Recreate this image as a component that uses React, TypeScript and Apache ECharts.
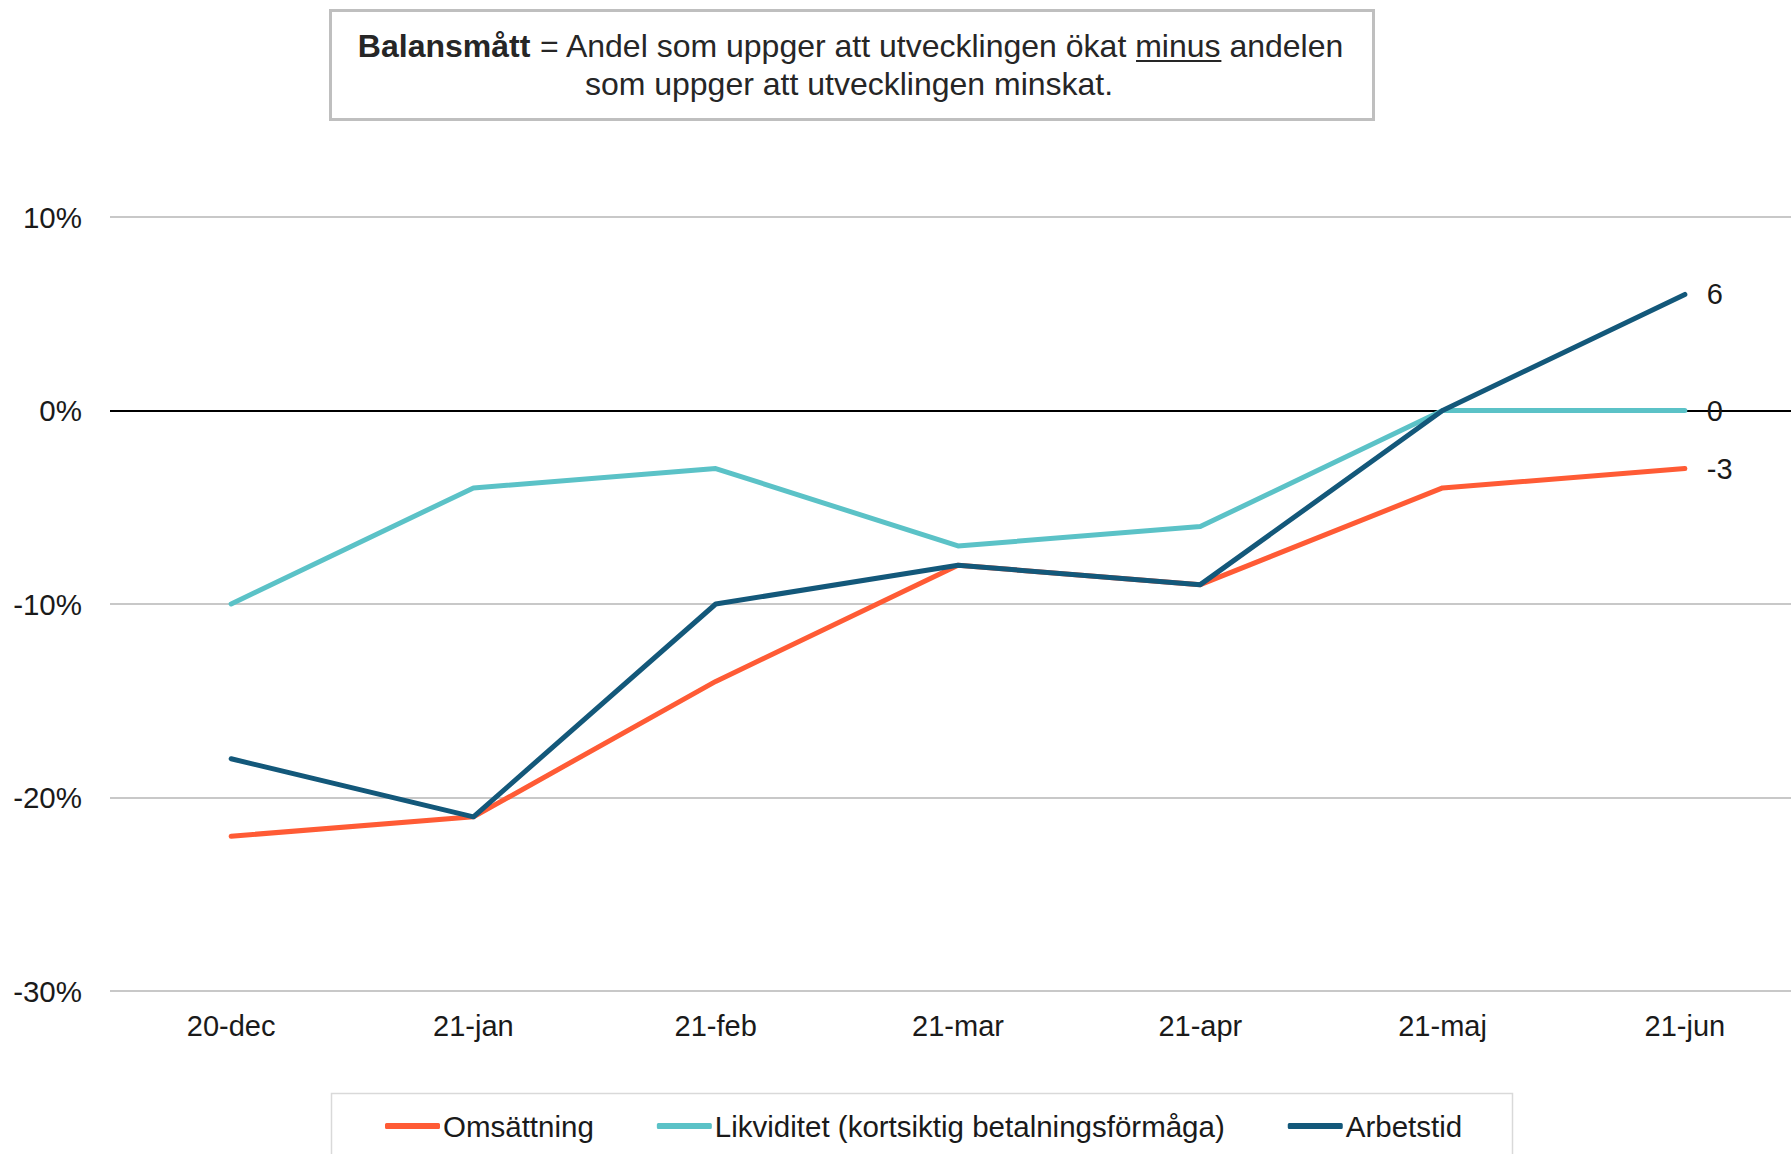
import React, { useEffect, useRef } from "react";
import * as echarts from "echarts";

const categories = ["20-dec", "21-jan", "21-feb", "21-mar", "21-apr", "21-maj", "21-jun"];
const omsattning = [-22, -21, -14, -8, -9, -4, -3];
const likviditet = [-10, -4, -3, -7, -6, 0, 0];
const arbetstid = [-18, -21, -10, -8, -9, 0, 6];
const seriesNames = ["Omsättning", "Likviditet (kortsiktig betalningsförmåga)", "Arbetstid"];
const seriesColors = ["#FF5B35", "#5BC2C7", "#13587A"];
const yTicks = [-30, -20, -10, 0, 10];

const FONT = "'Liberation Sans', Arial, sans-serif";
const NOTE_BOLD = "Balansmått";
const NOTE_PRE = " = Andel som uppger att utvecklingen ökat ";
const NOTE_UNDER = "minus";
const NOTE_POST = " andelen";
const NOTE_LINE2 = "som uppger att utvecklingen minskat.";
const NOTE_SIZE = 32;

function measure(text: string, bold: boolean): number {
  const c = document.createElement("canvas").getContext("2d");
  if (!c) return text.length * NOTE_SIZE * 0.5;
  c.font = `${bold ? "bold " : ""}${NOTE_SIZE}px 'Liberation Sans', Arial, sans-serif`;
  return c.measureText(text).width;
}

export default function App() {
  const ref = useRef<HTMLDivElement>(null);
  useEffect(() => {
    if (!ref.current) return;
    const chart = echarts.init(ref.current, null, { renderer: "svg" });
    const datasets = [omsattning, likviditet, arbetstid];
    const cx = 851;
    const wB = measure(NOTE_BOLD, true);
    const wPre = measure(NOTE_PRE, false);
    const wU = measure(NOTE_UNDER, false);
    const wPost = measure(NOTE_POST, false);
    const total = wB + wPre + wU + wPost;
    const ux1 = cx - total / 2 + wB + wPre;
    const ux2 = ux1 + wU;
    chart.setOption({
      animation: false,
      backgroundColor: "#ffffff",
      textStyle: { fontFamily: FONT },
      grid: { left: 110, right: 0, top: 217, bottom: 163, containLabel: false },
      xAxis: {
        type: "category",
        data: categories,
        boundaryGap: true,
        axisLine: { show: false },
        axisTick: { show: false },
        axisLabel: { color: "#1a1a1a", fontSize: 29, fontFamily: FONT, margin: 20 },
      },
      yAxis: {
        type: "value",
        min: yTicks[0],
        max: yTicks[yTicks.length - 1],
        interval: 10,
        axisLine: { show: false },
        axisTick: { show: false },
        axisLabel: { color: "#1a1a1a", fontSize: 29.5, fontFamily: FONT, margin: 28, formatter: "{value}%" },
        splitLine: {
          lineStyle: {
            color: yTicks.map((t) => (t === 0 ? "#000000" : "#C8C8C8")),
            width: 2,
          },
        },
      },
      legend: {
        left: 380,
        top: 1106,
        itemGap: 63,
        itemWidth: 55,
        itemHeight: 6,
        icon: "roundRect",
        textStyle: { color: "#1a1a1a", fontSize: 29.5, fontFamily: FONT, padding: [0, 0, 0, -2] },
        data: seriesNames,
      },
      series: seriesNames.map((name, i) => ({
        name,
        type: "line",
        data: datasets[i],
        showSymbol: false,
        symbol: "none",
        color: seriesColors[i],
        lineStyle: { width: 5, color: seriesColors[i], cap: "round", join: "round" },
        endLabel: {
          show: true,
          distance: 22,
          color: "#1a1a1a",
          fontSize: 29,
          fontFamily: FONT,
          formatter: (p: any) => String(p.value),
        },
        z: 2 + i,
      })),
      graphic: [
        {
          type: "rect",
          left: 329,
          top: 9,
          shape: { width: 1043, height: 109 },
          style: { fill: "#ffffff", stroke: "#BFBFBF", lineWidth: 3 },
          z: 10,
        },
        {
          type: "text",
          x: cx,
          y: 46,
          style: {
            text: `{b|${NOTE_BOLD}}${NOTE_PRE}${NOTE_UNDER}${NOTE_POST}`,
            fontSize: NOTE_SIZE,
            fontFamily: FONT,
            fill: "#262626",
            align: "center",
            verticalAlign: "middle",
            rich: {
              b: { fontWeight: "bold", fontSize: NOTE_SIZE, fontFamily: FONT, fill: "#262626" },
            },
          },
          z: 11,
        },
        {
          type: "text",
          x: cx - 2,
          y: 84,
          style: {
            text: NOTE_LINE2,
            fontSize: NOTE_SIZE,
            fontFamily: FONT,
            fill: "#262626",
            align: "center",
            verticalAlign: "middle",
          },
          z: 11,
        },
        {
          type: "line",
          shape: { x1: ux1, y1: 61, x2: ux2, y2: 61 },
          style: { stroke: "#262626", lineWidth: 2 },
          z: 11,
        },
        {
          type: "rect",
          left: 329,
          top: 1091,
          shape: { width: 1181, height: 80 },
          style: { fill: "none", stroke: "#D9D9D9", lineWidth: 1.5 },
          z: 0,
        },
      ],
    });
    return () => chart.dispose();
  }, []);
  return (
    <div style={{ position: "absolute", left: 0, top: 0, width: 1791, height: 1154, overflow: "hidden" }}>
      <div ref={ref} style={{ position: "absolute", left: 0, top: 0, width: 1806, height: 1154 }} />
    </div>
  );
}
